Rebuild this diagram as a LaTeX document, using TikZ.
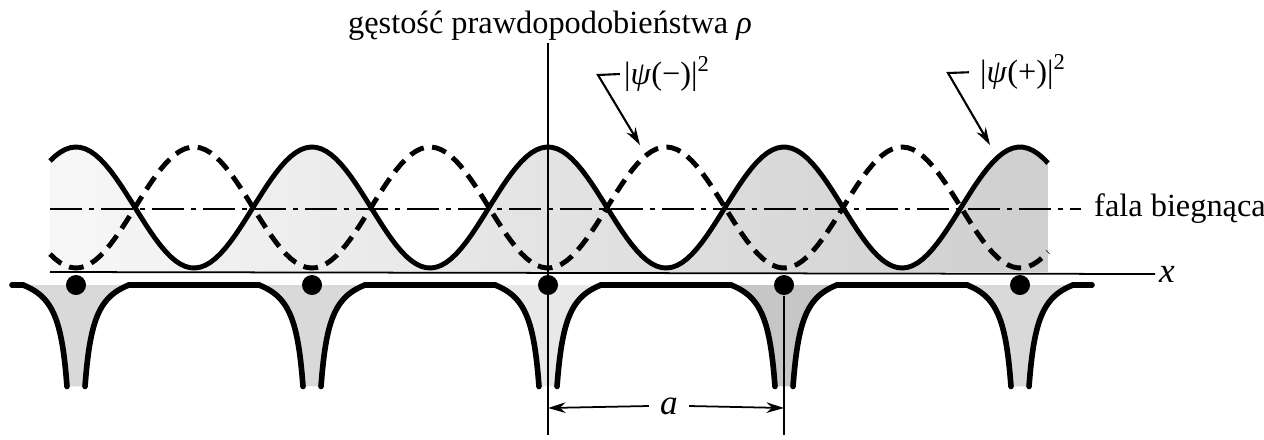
\documentclass[tikz,border=0pt]{standalone}
\usepackage{fontspec}
\setmainfont{Liberation Serif}
\usetikzlibrary{arrows.meta, positioning, calc}
\definecolor{inkcolor}{RGB}{0, 0, 0}
\tikzset{
	wave/.style={
		line width=1.4pt, color=inkcolor
	},
	dashwave/.style={
		wave, dash pattern=on 4.2pt off 2.4pt
	},
	thinline/.style={
		line width=0.5pt, color=inkcolor
	},
	dashdotline/.style={
		thinline, dash pattern=on 9pt off 2pt on 1.5pt off 2pt
	},
	wellwall/.style={
		line width=1.6pt, color=inkcolor, line cap=round
	},
	ion/.style={
		circle, fill=inkcolor, inner sep=0pt, minimum size=0.2cm
	},
	leader/.style={
		-{Stealth[length=5pt, width=3pt]}, line width=0.6pt
	},
	dimarrow/.style={
		-{Stealth[length=5pt, width=3pt]}, line width=0.5pt
	},
	lbl/.style={
		font=\rmfamily\fontsize{9.2}{11}\selectfont, inner sep=1pt
	}
}
\newcommand{\wavep}[1]{207.5-60.5*cos(1.525424*(#1-548))}
\newcommand{\wavem}[1]{207.5+60.5*cos(1.525424*(#1-548))}
\newcommand{\wellpot}[1]{285+1100*(1/(#1)-1/53)}

\begin{document}
\begin{tikzpicture}[x=0.01cm, y=-0.01cm]
		\useasboundingbox (0,0) rectangle (1264,439);

		%% ═══════════════════════════════
		%%  SHADING under |psi(+)|^2
		%% ═══════════════════════════════
		\begin{scope}
			\clip (50,272) -- plot[domain=50:1048, samples=200] (\x, {\wavep{\x}}) -- (1048,272) -- cycle;
			\shade[left color=gray!6, right color=gray!38] (50,140) rectangle (1048,272);
		\end{scope}

		%% ═══════════════════════════════
		%%  POTENTIAL WELLS
		%% ═══════════════════════════════
		\foreach \xo/\shd in {76/30, 312/30, 548/18, 784/45, 1020/30} {
			\fill[gray!\shd] plot[domain=9:53, samples=40] ({\xo-(62-\x)}, {\wellpot{62-\x}})
				-- plot[domain=9:53, samples=40] ({\xo+\x}, {\wellpot{\x}}) -- cycle;
			\draw[wellwall] plot[domain=9:53, samples=40] ({\xo-(62-\x)}, {\wellpot{62-\x}});
			\draw[wellwall] plot[domain=9:53, samples=40] ({\xo+\x}, {\wellpot{\x}});
		}
		\draw[wellwall] (12,285) -- (23,285);
		\foreach \xo in {76, 312, 548, 784} {
			\draw[wellwall] (\xo+53,285) -- (\xo+183,285);
		}
		\draw[wellwall] (1073,285) -- (1092,285);

		% ions
		\foreach \xo [count=\i] in {76, 312, 548, 784, 1020} {
			\node[ion] (ion\i) at (\xo,285) {};
		}

		%% ═══════════════════════════════
		%%  AXES
		%% ═══════════════════════════════
		\node[lbl, anchor=base] (rholbl) at (550,33) {gęstość prawdopodobieństwa \textit{ρ}};
		\coordinate (axtop) at (548,43);
		\coordinate (axbot) at (548,435);
		\draw[thinline] (axtop) -- (axbot);

		\coordinate (xaxl) at (50,272);
		\node[lbl, anchor=west, font=\rmfamily\fontsize{10}{12}\selectfont\itshape] (xlbl) at (1155,274) {x};
		\draw[thinline] (xaxl) -- (xlbl.west);

		\coordinate (fbl) at (50,209);
		\node[lbl, anchor=west] (falalbl) at (1090,209) {fala biegnąca};
		\draw[dashdotline, shorten >=2.5pt] (fbl) -- (falalbl.west);

		%% ═══════════════════════════════
		%%  WAVES
		%% ═══════════════════════════════
		\draw[wave] plot[domain=50:1048, samples=200] (\x, {\wavep{\x}});
		\draw[dashwave] plot[domain=50:1048, samples=200] (\x, {\wavem{\x}});

		% labels of the waves
		\node[lbl, anchor=west] (minuslbl) at (620,74) {|\textit{ψ}(−)|\textsuperscript{2}};
		\coordinate (minusbend) at (598,75);
		\coordinate (minustip) at (640,145);
		\draw[leader] (minuslbl.west) -- (minusbend) -- (minustip);

		\node[lbl, anchor=west] (pluslbl) at (976,72) {|\textit{ψ}(+)|\textsuperscript{2}};
		\coordinate (plusbend) at (948,73);
		\coordinate (plustip) at (990,145);
		\draw[leader, shorten <=2pt] (pluslbl.west) -- (plusbend) -- (plustip);

		%% ═══════════════════════════════
		%%  LATTICE CONSTANT
		%% ═══════════════════════════════
		\coordinate (tickR) at (784,435);
		\draw[thinline] (ion4) -- (tickR);
		\node[lbl, inner sep=3pt, font=\rmfamily\fontsize{10}{12}\selectfont\itshape] (alen) at (669,406) {a};
		\coordinate (dimL) at (548,408);
		\coordinate (dimR) at (784,408);
		\draw[dimarrow] (alen.west) -- (dimL);
		\draw[dimarrow] (alen.east) -- (dimR);

	\end{tikzpicture}
\end{document}
